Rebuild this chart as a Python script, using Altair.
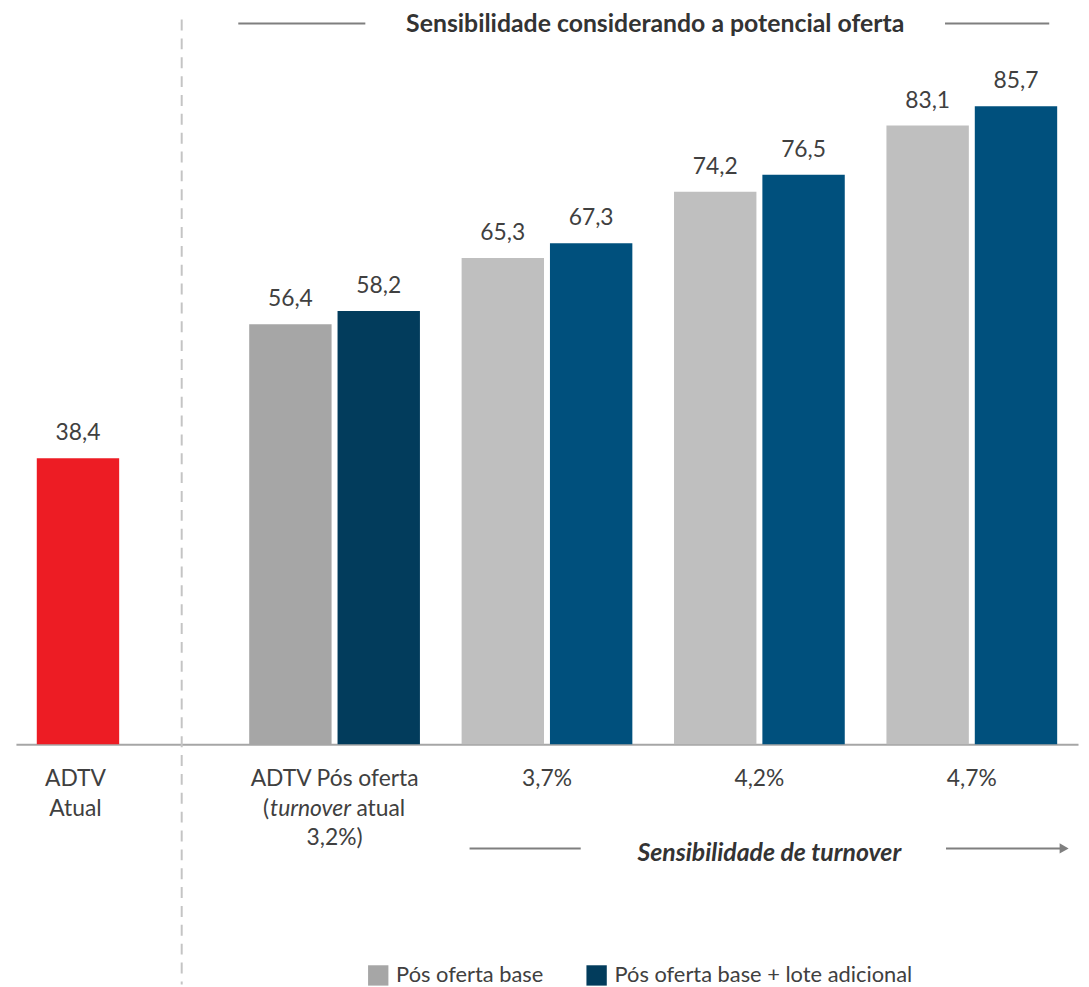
import altair as alt
import pandas as pd

# ---------------- data ----------------
categories = ["ADTV Atual", "ADTV Pós oferta", "3,7%", "4,2%", "4,7%"]
series = ["base", "lote"]
base_values = [38.4, 56.4, 65.3, 74.2, 83.1]
lote_values = [None, 58.2, 67.3, 76.5, 85.7]
base_keys = ["ADTV Atual", "Pós oferta base", "base_sens", "base_sens", "base_sens"]
lote_keys = [None, "Pós oferta base + lote adicional", "lote_sens", "lote_sens", "lote_sens"]

legend_labels = ["Pós oferta base", "Pós oferta base + lote adicional"]
color_keys = ["ADTV Atual", "Pós oferta base", "Pós oferta base + lote adicional", "base_sens", "lote_sens"]
color_range = ["#ED1C24", "#A6A6A6", "#023C5C", "#BFBFBF", "#00507D"]

adtv_label_lines = ["ADTV", "Atual"]
group_label_line1 = ["ADTV Pós oferta", "3,7%", "4,2%", "4,7%"]
group1_line2 = ["(", "turnover", "atual"]
group1_line3 = "3,2%)"

title_top = "Sensibilidade considerando a potencial oferta"
title_bottom = "Sensibilidade de turnover"

# ---------------- tables ----------------
rows = []
for c, b, l, kb, kl in zip(categories, base_values, lote_values, base_keys, lote_keys):
    rows.append({"cat": c, "ser": "base", "v": b, "key": kb})
    if l is not None:
        rows.append({"cat": c, "ser": "lote", "v": l, "key": kl})
df = pd.DataFrame(rows)

FONT = "Lato"
FS = 23
TFS = 25
TXT = "#404040"
DARK = "#333333"
W, H, PX = 1070, 737, 7.5
YMAX = H / PX

x = alt.X("cat:N", sort=categories,
          scale=alt.Scale(domain=categories, paddingInner=0, paddingOuter=0),
          axis=alt.Axis(labels=False, ticks=False, title=None, grid=False,
                        domainColor="#A6A6A6", domainWidth=2))
xo = alt.XOffset("ser:N", sort=series,
                 scale=alt.Scale(domain=series, paddingInner=0.067416, paddingOuter=0.2359))
y = alt.Y("v:Q", scale=alt.Scale(domain=[0, YMAX], nice=False, zero=True), axis=None)

base = alt.Chart(df)

bars = base.mark_bar().encode(
    x=x, xOffset=xo, y=y,
    color=alt.Color("key:N", scale=alt.Scale(domain=color_keys, range=color_range),
                    legend=alt.Legend(values=legend_labels, orient="none", legendX=354, legendY=959,
                                      direction="horizontal", title=None, symbolType="square",
                                      symbolSize=420, symbolStrokeWidth=0, symbolOpacity=1,
                                      labelFont=FONT, labelFontSize=FS - 1, labelColor=TXT,
                                      labelLimit=0, labelOffset=7, columnPadding=42)),
)

values = base.transform_calculate(
    lbl="replace(format(datum.v, '.1f'), '.', ',')"
).mark_text(dy=-18, baseline="alphabetic", font=FONT, fontSize=FS, color=TXT).encode(
    x=x, xOffset=xo, y=y, text="lbl:N"
)

layers = [bars, values]

# category labels
LINE0 = 779
LH = 30
for k, t in enumerate(adtv_label_lines):
    d = pd.DataFrame({"cat": [categories[0]], "t": [t]})
    layers.append(alt.Chart(d).mark_text(dx=-47, baseline="alphabetic", font=FONT, fontSize=FS, color=TXT)
                  .encode(x=x, y=alt.value(LINE0 + LH * k), text="t:N"))

d1 = pd.DataFrame({"cat": categories[1:], "t": group_label_line1})
layers.append(alt.Chart(d1).mark_text(baseline="alphabetic", font=FONT, fontSize=FS, color=TXT)
              .encode(x=x, y=alt.value(LINE0), text="t:N"))

piece_dx = [-72, -65, 22]
piece_style = ["normal", "italic", "normal"]
for t, dxv, st in zip(group1_line2, piece_dx, piece_style):
    d = pd.DataFrame({"cat": [categories[1]], "t": [t]})
    layers.append(alt.Chart(d).mark_text(dx=dxv, align="left", baseline="alphabetic", font=FONT,
                                         fontSize=FS, fontStyle=st, color=TXT)
                  .encode(x=x, y=alt.value(LINE0 + LH), text="t:N"))

d3 = pd.DataFrame({"cat": [categories[1]], "t": [group1_line3]})
layers.append(alt.Chart(d3).mark_text(baseline="alphabetic", font=FONT, fontSize=FS, color=TXT)
              .encode(x=x, y=alt.value(LINE0 + 2 * LH), text="t:N"))

# annotations
one = pd.DataFrame({"a": [0]})
LINEC = "#7F7F7F"

def hline(x1, x2, yy):
    return alt.Chart(one).mark_rule(color=LINEC, strokeWidth=2).encode(
        x=alt.value(x1), x2=alt.value(x2), y=alt.value(yy))

layers += [hline(224, 352, 11), hline(936, 1041, 11), hline(457, 569, 842), hline(937, 1052, 842)]

layers.append(alt.Chart(one).mark_point(shape="triangle-right", filled=True, size=110, color=LINEC, opacity=1)
              .encode(x=alt.value(1056), y=alt.value(842)))

layers.append(alt.Chart(one).mark_text(text=title_top, font=FONT, fontSize=TFS, fontWeight="bold",
                                       color=DARK, baseline="alphabetic")
              .encode(x=alt.value(644), y=alt.value(20)))
layers.append(alt.Chart(one).mark_text(text=title_bottom, font=FONT, fontSize=TFS, fontWeight="bold",
                                       fontStyle="italic", color=DARK, baseline="alphabetic")
              .encode(x=alt.value(759), y=alt.value(855)))

layers.append(alt.Chart(one).mark_rule(color="#C4C4C4", strokeWidth=2, strokeDash=[11, 8], strokeDashOffset=12)
              .encode(x=alt.value(167), y=alt.value(0), y2=alt.value(979)))

chart = alt.layer(*layers).properties(
    width=W, height=H,
    padding={"left": 8, "top": 0, "right": 3, "bottom": 0},
).configure_view(stroke=None)

chart.save("out.html", embed_options={"renderer": "svg", "actions": False})
